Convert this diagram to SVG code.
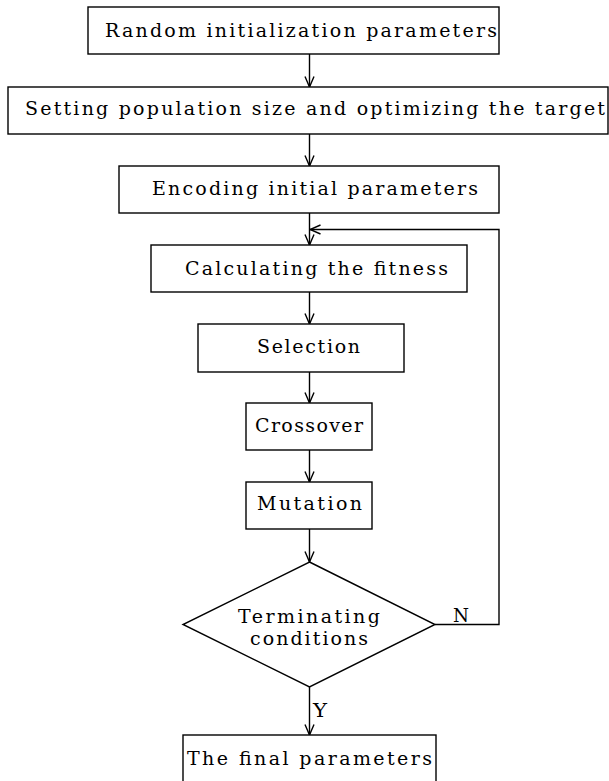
<svg xmlns="http://www.w3.org/2000/svg" width="609" height="781" viewBox="0 0 609 781">
<style>
.box{fill:#fff;stroke:#000;stroke-width:1.4}
.t{font-family:"DejaVu Serif","Liberation Serif",serif;font-size:19px;fill:#000}
.c{fill:none;stroke:#000;stroke-width:1.4}
</style>
<defs>
<marker id="ah" markerUnits="userSpaceOnUse" markerWidth="12" markerHeight="12" viewBox="0 0 12 12" refX="11" refY="6" orient="auto">
<path d="M0.5,1.5 L11,6 L0.5,10.5" fill="none" stroke="#000" stroke-width="1.4"/>
</marker>
</defs>
<rect width="609" height="781" fill="#fff"/>
<g id="connectors">
<line class="c" x1="309.5" y1="54" x2="309.5" y2="87" marker-end="url(#ah)"/>
<line class="c" x1="309.5" y1="134" x2="309.5" y2="166" marker-end="url(#ah)"/>
<line class="c" x1="309.5" y1="213" x2="309.5" y2="245" marker-end="url(#ah)"/>
<line class="c" x1="309.5" y1="292" x2="309.5" y2="324" marker-end="url(#ah)"/>
<line class="c" x1="309.5" y1="372" x2="309.5" y2="403" marker-end="url(#ah)"/>
<line class="c" x1="309.5" y1="450" x2="309.5" y2="482" marker-end="url(#ah)"/>
<line class="c" x1="309.5" y1="529" x2="309.5" y2="562" marker-end="url(#ah)"/>
<line class="c" x1="309.5" y1="687" x2="309.5" y2="735" marker-end="url(#ah)"/>
<polyline class="c" points="435,624.5 499,624.5 499,229.5 310,229.5" marker-end="url(#ah)"/>
<text class="t" x="453" y="622" textLength="16" lengthAdjust="spacingAndGlyphs">N</text>
<text class="t" x="313" y="717" textLength="14" lengthAdjust="spacingAndGlyphs">Y</text>
</g>
<g id="n1">
<rect class="box" x="88" y="7" width="411" height="47"/>
<text class="t" x="105" y="37" textLength="392" lengthAdjust="spacing">Random initialization parameters</text>
</g>
<g id="n2">
<rect class="box" x="8" y="87" width="600" height="47"/>
<text class="t" x="25" y="115" textLength="580" lengthAdjust="spacing">Setting population size and optimizing the target</text>
</g>
<g id="n3">
<rect class="box" x="119" y="166" width="380" height="47"/>
<text class="t" x="152" y="195" textLength="326" lengthAdjust="spacing">Encoding initial parameters</text>
</g>
<g id="n4">
<rect class="box" x="151" y="245" width="316" height="47"/>
<text class="t" x="185" y="275" textLength="263" lengthAdjust="spacing">Calculating the fitness</text>
</g>
<g id="n5">
<rect class="box" x="198" y="324" width="206" height="48"/>
<text class="t" x="257" y="353" textLength="103" lengthAdjust="spacing">Selection</text>
</g>
<g id="n6">
<rect class="box" x="246" y="403" width="126" height="47"/>
<text class="t" x="255" y="432" textLength="108" lengthAdjust="spacing">Crossover</text>
</g>
<g id="n7">
<rect class="box" x="246" y="482" width="126" height="47"/>
<text class="t" x="257" y="510" textLength="105" lengthAdjust="spacing">Mutation</text>
</g>
<g id="n8">
<polygon class="box" points="309.5,562 435,624.5 309.5,687 183,624.5"/>
<text class="t" x="238" y="623" textLength="142" lengthAdjust="spacing">Terminating</text>
<text class="t" x="250" y="645" textLength="118" lengthAdjust="spacing">conditions</text>
</g>
<g id="n9">
<rect class="box" x="183" y="735" width="253" height="60"/>
<text class="t" x="187" y="765" textLength="245" lengthAdjust="spacing">The final parameters</text>
</g>
</svg>
